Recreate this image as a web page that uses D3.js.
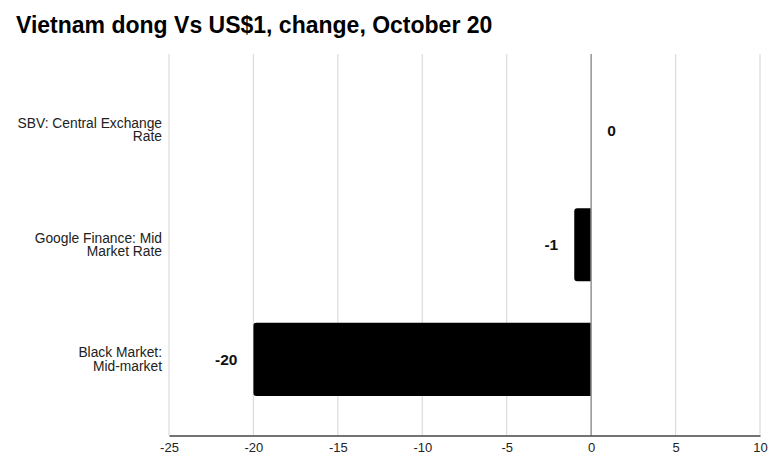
<!DOCTYPE html>
<html><head><meta charset="utf-8">
<script src="https://cdn.jsdelivr.net/npm/d3@7"></script>
<style>body{margin:0;background:#fff}svg{display:block;font-family:"Liberation Sans",Arial,sans-serif}</style>
</head><body><svg id="c" width="774" height="470"></svg>
<script>
const title = "Vietnam dong Vs US$1, change, October 20";
const categories = [["SBV: Central Exchange","Rate"],["Google Finance: Mid","Market Rate"],["Black Market:","Mid-market"]];
const values = [0, -1, -20];
const tickValues = [-25, -20, -15, -10, -5, 0, 5, 10];

const svg = d3.select("#c");
const x = d3.scaleLinear().domain([-25, 10]).range([169, 760]);
const y = d3.scaleBand().domain(d3.range(categories.length)).range([54, 435.5]).paddingInner(0.362).paddingOuter(0.345);

svg.append("text").attr("x", 16).attr("y", 33).attr("font-size", 23).attr("font-weight", "bold").attr("fill", "#000").text(title);

// gridlines
svg.append("g").selectAll("line").data(tickValues.filter(d => d !== 0)).join("line")
  .attr("x1", d => x(d)).attr("x2", d => x(d)).attr("y1", 54).attr("y2", 435.5)
  .attr("stroke", "#dcdcdc").attr("stroke-width", 1.2);

// bars
const barPath = (v, i) => {
  const x0 = x(Math.min(0, v)), x1 = x(Math.max(0, v)), y0 = y(i), h = y.bandwidth(), r = 3;
  if (v < 0) {
    return `M${x1},${y0}H${x0 + r}Q${x0},${y0} ${x0},${y0 + r}V${y0 + h - r}Q${x0},${y0 + h} ${x0 + r},${y0 + h}H${x1}Z`;
  } else if (v > 0) {
    return `M${x0},${y0}H${x1 - r}Q${x1},${y0} ${x1},${y0 + r}V${y0 + h - r}Q${x1},${y0 + h} ${x1 - r},${y0 + h}H${x0}Z`;
  }
  return "";
};
svg.append("g").selectAll("path").data(values).join("path")
  .attr("d", (d, i) => barPath(d, i)).attr("fill", "#000");

// zero line
svg.append("line").attr("x1", x(0)).attr("x2", x(0)).attr("y1", 54).attr("y2", 435.5)
  .attr("stroke", "#9a9a9a").attr("stroke-width", 1.6);

// x axis
const ax = svg.append("g").attr("transform", "translate(0,435.5)")
  .call(d3.axisBottom(x).tickValues(tickValues).tickSize(0).tickPadding(7).tickFormat(d => String(d)));
ax.select(".domain").attr("stroke", "#444").attr("stroke-width", 1.3);
ax.selectAll("text").attr("font-size", 13).attr("fill", "#222").attr("font-family", "Liberation Sans, Arial, sans-serif");

// category labels (one text per line)
const lh = 13.5;
const rows = [];
categories.forEach((lines, i) => lines.forEach((t, j) => rows.push({t, i, j, n: lines.length})));
svg.append("g").selectAll("text").data(rows).join("text")
  .attr("text-anchor", "end").attr("font-size", 13.8).attr("fill", "#222")
  .attr("x", 162)
  .attr("y", d => y(d.i) + y.bandwidth() / 2 + (d.j - (d.n - 1) / 2) * lh + 4.5)
  .text(d => d.t);

// value labels
svg.append("g").selectAll("text").data(values).join("text")
  .attr("x", d => d < 0 ? x(d) - 16 : x(d) + 16)
  .attr("y", (d, i) => y(i) + y.bandwidth() / 2 + 5.5)
  .attr("text-anchor", d => d < 0 ? "end" : "start")
  .attr("font-size", 15.5).attr("font-weight", "bold").attr("fill", "#111")
  .text(d => d);
</script></body></html>
